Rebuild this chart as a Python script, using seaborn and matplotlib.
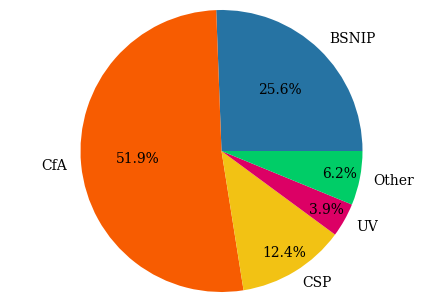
import matplotlib
matplotlib.use("Agg")
import matplotlib.pyplot as plt
import numpy as np
import seaborn as sns

surveys = ["BSNIP", "CfA", "CSP", "UV", "Other"]
shares = [25.6, 51.9, 12.4, 3.9, 6.2]
slice_colors = ["#2673a3", "#f75c01", "#f2c214", "#dc0065", "#00cd67"]

sns.set_theme(style="white")
plt.rcParams["font.family"] = ["DejaVu Serif"]

fig = plt.figure(figsize=(4.43, 3.02), dpi=100)
ax = fig.add_axes([0, 0, 1, 1])
wedges, texts, autotexts = ax.pie(
    shares, labels=surveys, colors=slice_colors, autopct="%1.1f%%",
    startangle=0, counterclock=True,
    wedgeprops={"linewidth": 0, "edgecolor": "none"},
    textprops={"fontsize": 10, "color": "black"})

# small slices: push the percentage out towards the rim
for w, t, s in zip(wedges, autotexts, shares):
    if s < 15:
        mid = np.deg2rad((w.theta1 + w.theta2) / 2)
        t.set_position((0.85 * np.cos(mid), 0.85 * np.sin(mid)))

ax.set_xlim(-1.571, 1.571)
ax.set_ylim(-1.071, 1.071)
ax.set_aspect("auto")
ax.axis("off")

fig.savefig("out.png", dpi=100)
